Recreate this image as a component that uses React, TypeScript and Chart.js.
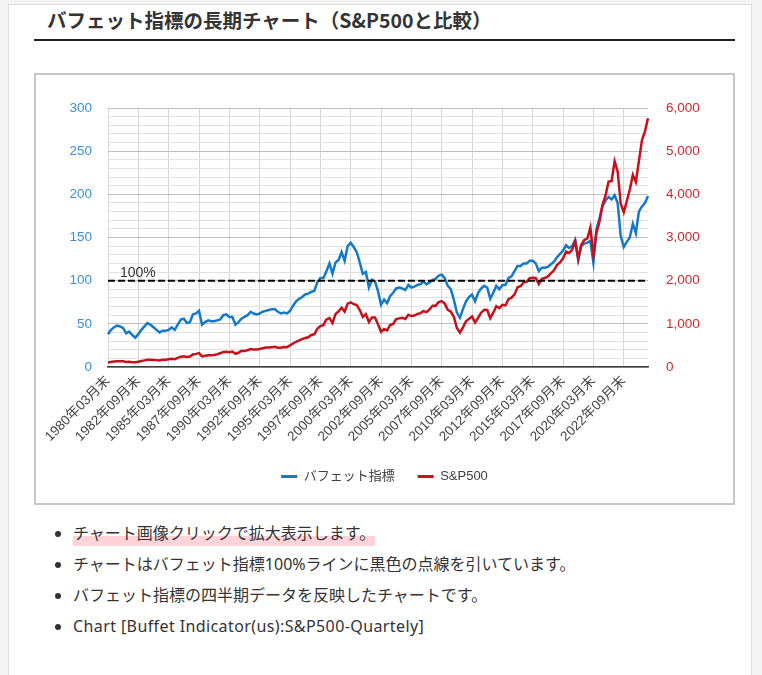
import React, { useEffect, useRef } from 'react';
import { Chart, registerables } from 'chart.js';

Chart.register(...registerables);

// ---- data ----
const startYear = 1980;
const endYear = 2024;
const quarterMonths = ['03', '06', '09', '12'];
const lastQuarterMonth = '09';

const categories: string[] = [];
for (let y = startYear; y <= endYear; y++) {
  for (const m of quarterMonths) {
    categories.push(`${y}年${m}月末`);
    if (y === endYear && m === lastQuarterMonth) break;
  }
}

// Buffett indicator (%), quarterly, 1980Q1 - 2024Q3
const buffettIndicator: number[] = [
  38, 43, 46, 48, // 1980
  47, 45, 39, 41, // 1981
  37, 34, 38, 43, // 1982
  47, 51, 49, 46, // 1983
  43, 40, 42, 42, // 1984
  43, 46, 43, 49, // 1985
  55, 56, 51, 52, // 1986
  61, 62, 65, 49, // 1987
  52, 54, 53, 53, // 1988
  54, 55, 60, 61, // 1989
  58, 58, 49, 52, // 1990
  56, 58, 60, 64, // 1991
  62, 61, 62, 64, // 1992
  65, 66, 67, 67, // 1993
  64, 62, 63, 62, // 1994
  65, 71, 76, 79, // 1995
  81, 84, 85, 87, // 1996
  88, 98, 103, 103, // 1997
  111, 120, 108, 121, // 1998
  124, 133, 123, 140, // 1999
  144, 139, 133, 121, // 2000
  108, 110, 92, 101, // 2001
  99, 88, 72, 78, // 2002
  74, 82, 86, 91, // 2003
  92, 91, 89, 95, // 2004
  92, 93, 95, 96, // 2005
  99, 96, 98, 101, // 2006
  102, 106, 107, 103, // 2007
  94, 90, 78, 63, // 2008
  57, 67, 76, 81, // 2009
  84, 76, 86, 91, // 2010
  94, 92, 79, 86, // 2011
  94, 90, 95, 95, // 2012
  103, 105, 111, 117, // 2013
  117, 120, 120, 123, // 2014
  123, 120, 111, 115, // 2015
  115, 116, 119, 122, // 2016
  127, 131, 135, 141, // 2017
  138, 140, 147, 124, // 2018
  140, 143, 144, 146, // 2019
  121, 160, 172, 186, // 2020
  193, 197, 194, 199, // 2021
  190, 152, 139, 145, // 2022
  150, 166, 155, 180, // 2023
  186, 190, 198, // 2024
];

// S&P500 quarter-end closes
const sp500: number[] = [
  102.09, 114.24, 125.46, 135.76,
  136.0, 131.21, 116.18, 122.55,
  111.96, 109.61, 120.42, 140.64,
  152.96, 168.11, 166.07, 164.93,
  159.18, 153.18, 166.1, 167.24,
  180.66, 191.85, 182.08, 211.28,
  238.9, 250.84, 231.32, 242.17,
  291.7, 304.0, 321.83, 247.08,
  258.89, 273.5, 271.91, 277.72,
  294.87, 317.98, 349.15, 353.4,
  339.94, 358.02, 306.05, 330.22,
  375.22, 371.16, 387.86, 417.09,
  403.69, 408.14, 417.8, 435.71,
  451.67, 450.53, 458.93, 466.45,
  445.77, 444.27, 462.69, 459.27,
  500.71, 544.75, 584.41, 615.93,
  645.5, 670.63, 687.33, 740.74,
  757.12, 885.14, 947.28, 970.43,
  1101.75, 1133.84, 1017.01, 1229.23,
  1286.37, 1372.71, 1282.71, 1469.25,
  1498.58, 1454.6, 1436.51, 1320.28,
  1160.33, 1224.42, 1040.94, 1148.08,
  1147.39, 989.82, 815.28, 879.82,
  848.18, 974.5, 995.97, 1111.92,
  1126.21, 1140.84, 1114.58, 1211.92,
  1180.59, 1191.33, 1228.81, 1248.29,
  1294.83, 1270.2, 1335.85, 1418.3,
  1420.86, 1503.35, 1526.75, 1468.36,
  1322.7, 1280.0, 1166.36, 903.25,
  797.87, 919.32, 1057.08, 1115.1,
  1169.43, 1030.71, 1141.2, 1257.64,
  1325.83, 1320.64, 1131.42, 1257.6,
  1408.47, 1362.16, 1440.67, 1426.19,
  1569.19, 1606.28, 1681.55, 1848.36,
  1872.34, 1960.23, 1972.29, 2058.9,
  2067.89, 2063.11, 1920.03, 2043.94,
  2059.74, 2098.86, 2168.27, 2238.83,
  2362.72, 2423.41, 2519.36, 2673.61,
  2640.87, 2718.37, 2913.98, 2506.85,
  2834.4, 2941.76, 2976.74, 3230.78,
  2584.59, 3100.29, 3363.0, 3756.07,
  3972.89, 4297.5, 4307.54, 4766.18,
  4530.41, 3785.38, 3585.62, 3839.5,
  4109.31, 4450.38, 4288.05, 4769.83,
  5254.35, 5460.48, 5762.48,
];

const referenceLevel = 100;
const referenceLabel = '100%';
const seriesNames = ['バフェット指標', 'S&P500'];
const leftTicks = { min: 0, max: 300, step: 10, labelEvery: 50 };
const rightTicks = { min: 0, max: 6000, step: 1000 };
const xLabelEvery = 10;

const heading = 'バフェット指標の長期チャート（S&P500と比較）';
const bullets = [
  'チャートはバフェット指標100%ラインに黒色の点線を引いています。',
  'バフェット指標の四半期データを反映したチャートです。',
];
const latinBullet = 'Chart [Buffet Indicator(us):S&P500-Quartely]';
const firstBullet = 'チャート画像クリックで拡大表示します。';

const CANVAS_FONT = "'Liberation Sans', Arial, 'Noto Sans CJK JP', sans-serif";
const HTML_FONT = "'Noto Sans CJK JP', 'Noto Sans', sans-serif";
const LIST_FONT = "'Noto Sans', 'Noto Sans CJK JP', sans-serif";

const BLUE = '#1479c9';
const RED = '#c8101c';

const hundredLabelPlugin = {
  id: 'hundredLabel',
  afterDatasetsDraw(chart: any) {
    const y = chart.scales.y.getPixelForValue(referenceLevel);
    const ctx = chart.ctx;
    ctx.save();
    ctx.font = `14px ${CANVAS_FONT}`;
    ctx.fillStyle = '#333333';
    ctx.textBaseline = 'alphabetic';
    ctx.textAlign = 'left';
    ctx.fillText(referenceLabel, chart.chartArea.left + 12, y - 4);
    ctx.restore();
  },
};

function BuffettChart() {
  const ref = useRef<HTMLCanvasElement | null>(null);
  useEffect(() => {
    if (!ref.current) return;
    const chart = new Chart(ref.current, {
      type: 'line',
      data: {
        labels: categories,
        datasets: [
          {
            label: seriesNames[0],
            data: buffettIndicator,
            borderColor: BLUE,
            backgroundColor: BLUE,
            borderWidth: 2.5,
            pointRadius: 0,
            tension: 0,
            yAxisID: 'y',
            order: 2,
          },
          {
            label: seriesNames[1],
            data: sp500,
            borderColor: RED,
            backgroundColor: RED,
            borderWidth: 2.5,
            pointRadius: 0,
            tension: 0,
            yAxisID: 'y1',
            order: 1,
          },
          {
            label: referenceLabel,
            data: categories.map(() => referenceLevel),
            borderColor: '#000000',
            borderWidth: 2,
            borderDash: [7, 3],
            pointRadius: 0,
            yAxisID: 'y',
            order: 0,
          },
        ],
      },
      options: {
        responsive: false,
        animation: false,
        devicePixelRatio: 1,
        layout: { padding: { top: 33, left: 0, right: 0, bottom: 10 } },
        plugins: {
          tooltip: { enabled: false },
          legend: {
            position: 'bottom',
            labels: {
              filter: (item: any) => item.datasetIndex !== 2,
              sort: (a: any, b: any) => a.datasetIndex - b.datasetIndex,
              generateLabels: (chart: any) =>
                (Chart.defaults.plugins.legend.labels.generateLabels as any)(chart).map((it: any) => ({
                  ...it,
                  lineWidth: 0,
                  strokeStyle: 'transparent',
                })),
              boxWidth: 16,
              boxHeight: 3,
              padding: 23,
              color: '#404040',
              font: { size: 13, family: CANVAS_FONT },
            },
          },
        },
        scales: {
          x: {
            type: 'category',
            offset: false,
            grid: { color: '#d6d6d6', lineWidth: 1, drawTicks: false },
            border: { color: '#404040', width: 1.5 },
            ticks: {
              autoSkip: false,
              maxRotation: 45,
              minRotation: 45,
              padding: 6,
              color: '#444444',
              font: { size: 13.5, family: CANVAS_FONT },
              callback: (_v: any, i: number) => (i % xLabelEvery === 0 ? categories[i] : null),
            },
            afterFit: (s: any) => {
              s.height = 80;
            },
          },
          y: {
            type: 'linear',
            position: 'left',
            min: leftTicks.min,
            max: leftTicks.max,
            grid: {
              drawTicks: false,
              color: (ctx: any) =>
                ctx.tick && ctx.tick.value % leftTicks.labelEvery === 0 ? '#bdbdbd' : '#e2e2e2',
            },
            border: { display: false },
            ticks: {
              stepSize: leftTicks.step,
              maxTicksLimit: 100,
              autoSkip: false,
              padding: 16,
              color: '#3a8fd6',
              font: { size: 13.5, family: CANVAS_FONT },
              callback: (v: any) => (Number(v) % leftTicks.labelEvery === 0 ? String(v) : ''),
            },
            afterFit: (s: any) => {
              s.width = 72;
            },
          },
          y1: {
            type: 'linear',
            position: 'right',
            min: rightTicks.min,
            max: rightTicks.max,
            grid: { display: false, drawTicks: false },
            border: { display: false },
            ticks: {
              stepSize: rightTicks.step,
              autoSkip: false,
              padding: 18,
              color: '#d0262e',
              font: { size: 13.5, family: CANVAS_FONT },
              callback: (v: any) => Number(v).toLocaleString('en-US'),
            },
            afterFit: (s: any) => {
              s.width = 85;
            },
          },
        },
      },
      plugins: [hundredLabelPlugin],
    } as any);
    return () => chart.destroy();
  }, []);
  return <canvas ref={ref} width={697} height={428} style={{ display: 'block', width: 697, height: 428 }} />;
}

export default function App() {
  return (
    <div
      style={{
        position: 'absolute',
        left: 0,
        top: 0,
        width: 762,
        height: 675,
        overflow: 'hidden',
        background: '#f3f3f3',
        fontFamily: HTML_FONT,
        color: '#333',
      }}
    >
      <div
        style={{
          position: 'absolute',
          left: 8,
          top: 4,
          width: 744,
          height: 700,
          background: '#fff',
          border: '1px solid #dddddd',
          boxSizing: 'border-box',
        }}
      />
      <div
        style={{
          position: 'absolute',
          left: 47,
          top: 7,
          fontSize: 19.5,
          fontWeight: 700,
          lineHeight: '26px',
          whiteSpace: 'nowrap',
          color: '#333',
        }}
      >
        {heading}
      </div>
      <div style={{ position: 'absolute', left: 34, top: 39, width: 701, height: 2, background: '#222' }} />
      <div
        style={{
          position: 'absolute',
          left: 34,
          top: 73,
          width: 701,
          height: 432,
          border: '2px solid #c6c6c6',
          boxSizing: 'border-box',
          background: '#fff',
        }}
      >
        <BuffettChart />
      </div>
      <ul
        style={{
          position: 'absolute',
          left: 33,
          top: 522,
          margin: 0,
          paddingLeft: 40,
          fontSize: 16,
          lineHeight: '22px',
          color: '#333',
          whiteSpace: 'nowrap',
          fontFamily: LIST_FONT,
        }}
      >
        <li style={{ marginBottom: 9 }}>
          <span style={{ background: 'linear-gradient(transparent 62%, #ffd3d8 62%)', padding: '2px 0' }}>
            {firstBullet}
          </span>
        </li>
        {bullets.map((b, i) => (
          <li key={i} style={{ marginBottom: 9 }}>
            {b}
          </li>
        ))}
        <li style={{ marginBottom: 9, letterSpacing: '0.4px' }}>{latinBullet}</li>
      </ul>
    </div>
  );
}
